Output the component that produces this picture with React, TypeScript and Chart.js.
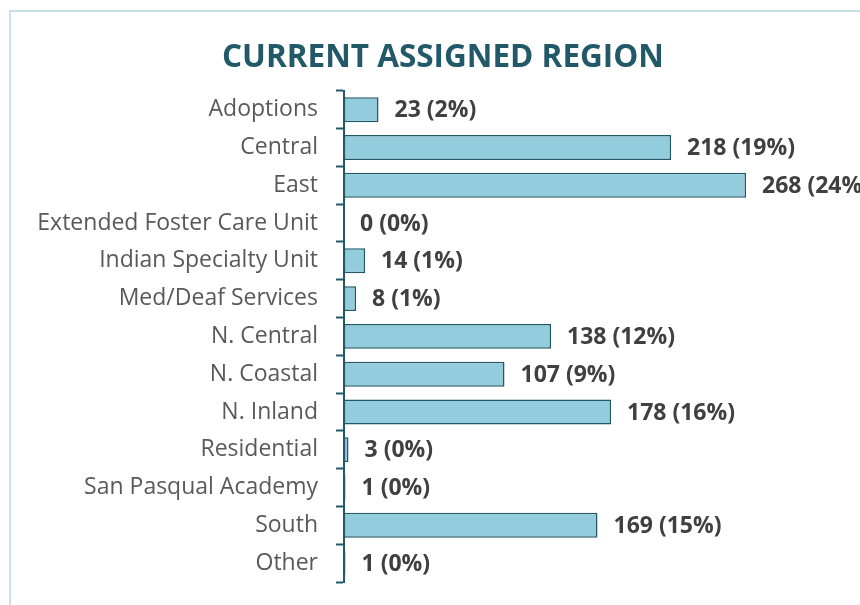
import React, { useEffect, useRef } from "react";
import { Chart, registerables } from "chart.js";

Chart.register(...registerables);

const categories = [
  "Adoptions",
  "Central",
  "East",
  "Extended Foster Care Unit",
  "Indian Specialty Unit",
  "Med/Deaf Services",
  "N. Central",
  "N. Coastal",
  "N. Inland",
  "Residential",
  "San Pasqual Academy",
  "South",
  "Other",
];
const counts = [23, 218, 268, 0, 14, 8, 138, 107, 178, 3, 1, 169, 1];
const percents = [2, 19, 24, 0, 1, 1, 12, 9, 16, 0, 0, 15, 0];

const TEAL = "#215968";

const frame = {
  id: "frame",
  beforeDraw(chart: any) {
    const ctx = chart.ctx;
    ctx.save();
    ctx.fillStyle = "#ffffff";
    ctx.fillRect(0, 0, chart.width, chart.height);
    ctx.strokeStyle = "#c3e2ec";
    ctx.lineWidth = 2;
    ctx.strokeRect(10, 11, 2000, 2000);
    ctx.restore();
  },
};

const valueLabels = {
  id: "valueLabels",
  afterDatasetsDraw(chart: any) {
    const ctx = chart.ctx;
    const meta = chart.getDatasetMeta(0);
    ctx.save();
    ctx.font = "bold 23px 'Open Sans'";
    ctx.fillStyle = "#404040";
    ctx.textAlign = "left";
    ctx.textBaseline = "middle";
    meta.data.forEach((bar: any, i: number) => {
      const text = `${counts[i]} (${percents[i]}%)`;
      ctx.fillText(text, bar.x + 16, bar.y + 1);
    });
    ctx.restore();
  },
};

export default function App() {
  const ref = useRef<HTMLCanvasElement>(null);
  useEffect(() => {
    if (!ref.current) return;
    const chart = new Chart(ref.current, {
      type: "bar",
      data: {
        labels: categories,
        datasets: [
          {
            data: counts,
            backgroundColor: "#93cddd",
            borderColor: TEAL,
            borderWidth: 1.5,
            borderSkipped: false,
            barPercentage: 0.66,
            categoryPercentage: 1,
          },
        ],
      },
      options: {
        indexAxis: "y",
        responsive: false,
        animation: false,
        layout: { padding: { top: 24, bottom: 23, left: 26, right: 0 } },
        plugins: {
          legend: { display: false },
          tooltip: { enabled: false },
          title: {
            display: true,
            text: "CURRENT ASSIGNED REGION",
            color: TEAL,
            font: { family: "'Open Sans'", size: 31.5, weight: "bold" },
            padding: { top: 15, bottom: 14 },
          },
        },
        scales: {
          x: {
            display: false,
            min: 0,
            max: 344,
          },
          y: {
            afterFit(scale: any) {
              scale.width = 318;
              scale.paddingTop = 0;
              scale.paddingBottom = 0;
            },
            grid: {
              offset: true,
              drawOnChartArea: false,
              tickLength: 8,
              tickColor: TEAL,
              tickWidth: 2,
            },
            border: { color: TEAL, width: 2 },
            ticks: {
              color: "#595959",
              font: { family: "'Open Sans'", size: 23 },
              padding: 18,
            },
          },
        },
      },
      plugins: [frame, valueLabels],
    });
    return () => chart.destroy();
  }, []);
  return (
    <div style={{ position: "fixed", left: 0, top: 0, width: 860, height: 605 }}>
      <canvas ref={ref} width={860} height={605} />
    </div>
  );
}
